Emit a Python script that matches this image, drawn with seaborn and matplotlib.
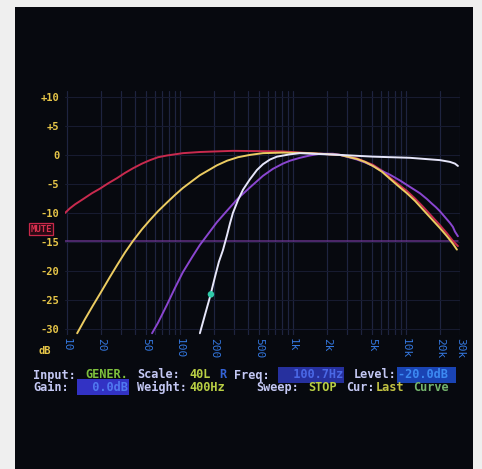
import numpy as np
import pandas as pd
import seaborn as sns
import matplotlib
matplotlib.use("Agg")
import matplotlib.pyplot as plt

# ---------------- data ----------------
red_freq = [9.6, 10.6, 11.8, 13.9, 16.6, 19.6, 23.1, 27.7, 32.6, 38.4, 46.1, 54.3, 63.9, 76.7,
            106, 150, 294, 815, 1413, 2606, 3684, 5105, 6137, 7211, 8492, 10200, 12020,
            14130, 16990, 20000, 23070, 26060, 28850]
red_db = [-10.0, -9.2, -8.5, -7.6, -6.6, -5.8, -4.9, -4.0, -3.1, -2.3, -1.5, -0.9, -0.4, -0.1,
          0.3, 0.5, 0.7, 0.6, 0.3, 0.0, -0.6, -1.7, -2.7, -3.9, -5.0, -6.2, -7.5,
          -8.9, -10.6, -12.1, -13.5, -14.8, -15.7]

yellow_freq = [12.3, 14.4, 17.0, 19.6, 24.0, 27.7, 32.6, 38.4, 46.1, 54.3, 63.9, 76.7, 90.3,
               106, 128, 150, 184, 212, 261, 326, 416, 543, 815, 1413, 2606, 3684, 4335,
               5105, 6137, 7211, 8492, 10200, 12020, 14130, 16990, 20000, 23070, 26060, 28270]
yellow_db = [-30.7, -28.3, -25.9, -23.9, -21.0, -19.0, -16.8, -14.8, -12.8, -11.2, -9.7, -8.2, -6.9,
             -5.7, -4.5, -3.5, -2.5, -1.8, -1.0, -0.4, 0.0, 0.3, 0.4, 0.3, 0.0, -0.7, -1.2,
             -1.9, -2.9, -4.1, -5.3, -6.6, -7.9, -9.4, -11.1, -12.6, -14.0, -15.3, -16.3]

purple_freq = [56.6, 63.9, 76.7, 90.3, 106, 128, 150, 184, 212, 261, 326, 416, 543, 665, 815,
               941, 1153, 1413, 1734, 2259, 2606, 3684, 4335, 5105, 5888, 7211, 8851, 10840,
               13300, 15350, 16990, 18420, 20000, 22140, 24510, 26060, 27160, 28850]
purple_db = [-30.7, -28.9, -25.8, -22.9, -20.2, -17.6, -15.5, -13.2, -11.6, -9.6, -7.5, -5.6, -3.6,
             -2.4, -1.5, -1.0, -0.5, -0.1, 0.2, 0.2, 0.0, -0.8, -1.3, -1.9, -2.6, -3.4, -4.4,
             -5.5, -6.6, -7.6, -8.4, -9.0, -9.7, -10.7, -11.7, -12.4, -13.2, -14.0]

white_freq = [150, 166, 184, 204, 221, 240, 261, 277, 294, 326, 361, 416, 480, 543, 626, 721,
              941, 1153, 2606, 5105, 10840, 20000, 24510, 27160, 28850]
white_db = [-30.7, -27.6, -24.5, -21.0, -18.4, -16.4, -13.8, -11.8, -10.0, -7.8, -6.0, -4.2, -2.6,
            -1.6, -0.8, -0.3, 0.1, 0.3, 0.0, -0.3, -0.5, -0.9, -1.2, -1.5, -1.9]

noise_freq = [9.6, 100, 1000, 10000, 28850]
noise_db = [-14.9, -14.9, -14.9, -14.9, -14.9]

marker_freq = [188]
marker_db = [-24.0]

x_ticks = [10, 20, 50, 100, 200, 500, 1000, 2000, 5000, 10000, 20000, 30000]
x_tick_labels = ["10", "20", "50", "100", "200", "500", "1k", "2k", "5k", "10k", "20k", "30k"]
y_ticks = [10, 5, 0, -5, -10, -15, -20, -25, -30]
y_tick_labels = ["+10", "+5", "0", "-5", "-10", "-15", "-20", "-25", "-30"]

# ---------------- figure ----------------
W, H = 482, 469
fig = plt.figure(figsize=(W / 100, H / 100), dpi=100)
fig.patch.set_facecolor("#efefef")

def fx(px):
    return px / W

def fy(py):
    return 1 - py / H

# screen background
bg = fig.add_axes([fx(15), 0, fx(473) - fx(15), fy(7)])
bg.set_facecolor("#07090f")
bg.set_xticks([]); bg.set_yticks([])
for s in bg.spines.values():
    s.set_visible(False)

sns.set_style("dark")
ax = fig.add_axes([fx(65), fy(335), fx(460) - fx(65), fy(91) - fy(335)])
ax.set_facecolor("none")
ax.set_xscale("log")
ax.set_xlim(9.6, 30100)
ax.set_ylim(-31, 11)

# grid
minor_grid = [m * 10 ** d for d in range(1, 5) for m in range(1, 10) if m * 10 ** d <= 30000]
for g in minor_grid:
    ax.axvline(g, color="#1e2440", lw=0.85, zorder=0)
for g in y_ticks:
    ax.axhline(g, color="#171b30", lw=0.8, zorder=0)

def draw(fr, db, color, lw=1.4, alpha=1.0, z=2):
    df = pd.DataFrame({"freq": fr, "db": db})
    sns.lineplot(data=df, x="freq", y="db", ax=ax, color=color, lw=lw,
                 alpha=alpha, estimator=None, sort=False, legend=False, zorder=z)

draw(noise_freq, noise_db, "#6a3590", lw=1.1, alpha=0.9, z=1)
draw(red_freq, red_db, "#c92a4e", z=2)
draw(purple_freq, purple_db, "#8a46d0", z=3)
draw(yellow_freq, yellow_db, "#eccc62", z=4)
draw(white_freq, white_db, "#e6e6fa", z=5)

sns.scatterplot(x=marker_freq, y=marker_db, ax=ax, color="#2fc9a8", s=22,
                edgecolor="none", zorder=6, legend=False)

for s in ax.spines.values():
    s.set_visible(False)
ax.set_xlabel("")
ax.set_ylabel("")
ax.grid(False)

ax.set_yticks(y_ticks)
ax.set_yticklabels(y_tick_labels, color="#e6c548", fontsize=7.5,
                   fontweight="bold", family="DejaVu Sans Mono")
ax.set_xticks(x_ticks)
ax.set_xticklabels(x_tick_labels, color="#3478e0", fontsize=8,
                   family="DejaVu Sans Mono", rotation=270, ha="center", va="top")
ax.xaxis.set_minor_locator(matplotlib.ticker.NullLocator())
ax.tick_params(axis="y", length=0, pad=4)
ax.tick_params(axis="x", length=0, pad=2.5)

# dB label
fig.text(fx(45), fy(351), "dB", color="#e6c548", fontsize=7.5, fontweight="bold",
         family="DejaVu Sans Mono", ha="center", va="center")

# MUTE box
fig.text(fx(41), fy(229), "MUTE", color="#d8304e", fontsize=6.5, fontweight="bold",
         family="DejaVu Sans Mono", ha="center", va="center",
         bbox=dict(boxstyle="square,pad=0.15", facecolor="#2a0a14", edgecolor="#c8284a", lw=0.9))

# status lines
CW = 7.45
X0 = 33
LAV = "#c4c8f4"
GRN = "#b9cf44"

def seg(col, row_y, text, color, box=None):
    kw = {}
    if box is not None:
        kw["bbox"] = dict(boxstyle="square,pad=0.1", facecolor=box, edgecolor="none")
    fig.text(fx(X0 + col * CW), fy(row_y), text, color=color, fontsize=8.6,
             fontweight="bold", family="DejaVu Sans Mono", ha="left", va="center", **kw)

r1, r2 = 375, 387
seg(0, r1, "Input:", LAV)
seg(7, r1, "GENER.", "#7fc23e")
seg(14, r1, "Scale:", LAV)
seg(21, r1, "40L", GRN)
seg(25, r1, "R", "#3462d6")
seg(27, r1, "Freq:", LAV)
seg(33, r1, "  100.7Hz", "#4a68e6", box="#26309e")
seg(43, r1, "Level:", LAV)
seg(49, r1, "-20.0dB ", "#3c8af2", box="#1a44b4")

seg(0, r2, "Gain:", LAV)
seg(6, r2, "  0.0dB", "#5078f0", box="#3232c4")
seg(14, r2, "Weight:", LAV)
seg(21, r2, "400Hz", GRN)
seg(30, r2, "Sweep:", LAV)
seg(37, r2, "STOP", GRN)
seg(42, r2, "Cur:", LAV)
seg(46, r2, "Last", "#c2c242")
seg(51, r2, "Curve", "#74b46e")

fig.savefig("out.png", dpi=100, facecolor=fig.get_facecolor())
